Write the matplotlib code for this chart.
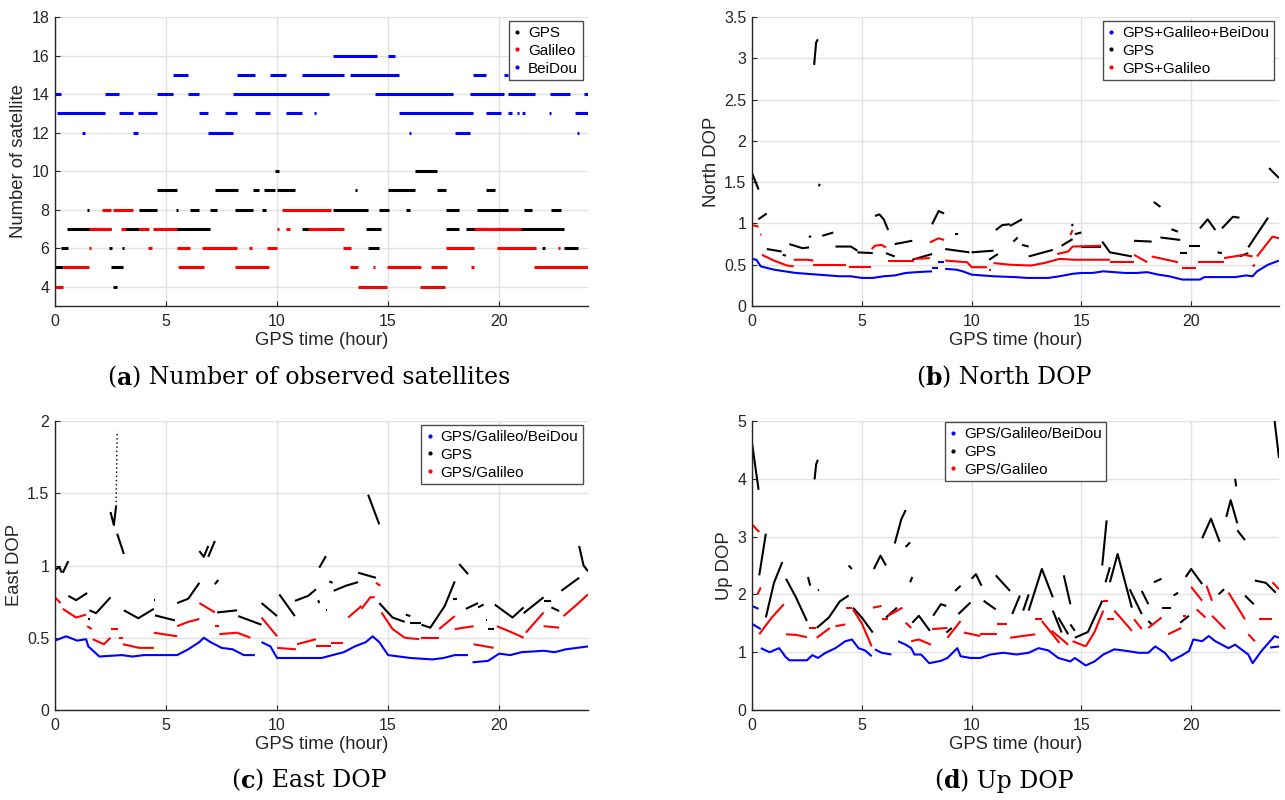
import matplotlib
matplotlib.use("Agg")
import matplotlib.pyplot as plt
from matplotlib.lines import Line2D

plt.rcParams['font.family'] = ['Liberation Sans', 'DejaVu Sans']

# ---------------- (a) number of observed satellites: (start_hour, end_hour, count)
gps_sat = [(0.0, 0.35, 5), (0.25, 0.6, 6), (0.55, 2.5, 7), (1.45, 1.55, 8), (2.45, 2.55, 6),
           (2.5, 3.05, 5), (2.6, 2.8, 4), (3.0, 3.1, 6), (3.0, 3.8, 7), (3.8, 4.6, 8),
           (4.6, 5.5, 9), (5.4, 7.0, 7), (5.45, 5.55, 8), (6.1, 6.5, 8), (7.0, 7.3, 8),
           (7.2, 8.25, 9), (8.1, 8.9, 8), (8.9, 9.2, 9), (9.4, 9.9, 9), (10.0, 10.8, 9),
           (9.3, 9.5, 8), (9.9, 10.1, 10), (11.1, 12.45, 7), (12.5, 14.1, 8), (13.5, 13.6, 9),
           (14.0, 14.7, 7), (14.1, 14.6, 6), (14.6, 15.05, 8), (15.0, 16.2, 9), (15.8, 16.0, 8),
           (16.2, 17.2, 10), (17.2, 17.6, 9), (17.6, 18.2, 8), (17.6, 18.2, 7), (18.5, 22.9, 7),
           (19.0, 20.4, 8), (19.4, 19.8, 9), (21.1, 21.5, 8), (21.95, 22.05, 6), (22.35, 22.8, 8),
           (22.9, 23.55, 6)]
galileo_sat = [(0.0, 0.35, 4), (0.35, 1.55, 5), (1.52, 1.6, 6), (1.55, 2.5, 7), (2.1, 2.5, 8),
               (2.6, 3.5, 8), (2.95, 3.2, 7), (3.8, 4.25, 7), (4.2, 4.35, 6), (4.4, 5.5, 7),
               (5.5, 6.1, 6), (5.55, 6.7, 5), (6.6, 8.2, 6), (8.1, 9.65, 5), (8.75, 8.85, 6),
               (9.55, 10.0, 6), (10.0, 10.1, 7), (10.4, 10.6, 7), (10.2, 12.45, 8), (11.4, 13.0, 7),
               (12.95, 13.35, 6), (13.3, 13.65, 5), (13.65, 14.95, 4), (14.3, 14.4, 5),
               (14.95, 16.5, 5), (16.45, 17.55, 4), (16.95, 17.65, 5), (17.6, 18.85, 6),
               (18.75, 18.85, 5), (18.85, 21.0, 7), (19.9, 21.65, 6), (21.55, 24.0, 5),
               (22.65, 22.75, 6)]
beidou_sat = [(12.5, 14.5, 16), (15.0, 15.3, 16),
              (5.3, 6.0, 15), (8.2, 9.0, 15), (9.7, 10.4, 15), (11.1, 13.0, 15), (13.3, 15.5, 15),
              (18.8, 19.4, 15), (20.2, 20.4, 15),
              (0.0, 0.25, 14), (2.25, 2.9, 14), (4.6, 5.3, 14), (6.0, 6.5, 14), (8.0, 12.35, 14),
              (14.4, 17.9, 14), (18.7, 20.2, 14), (20.4, 21.6, 14), (22.3, 23.2, 14), (23.8, 24.0, 14),
              (0.1, 2.25, 13), (2.9, 3.5, 13), (3.75, 4.6, 13), (6.5, 6.9, 13), (7.65, 8.2, 13),
              (9.0, 9.7, 13), (10.4, 11.1, 13), (11.65, 11.75, 13), (15.5, 18.8, 13), (19.4, 20.1, 13),
              (20.4, 20.6, 13), (20.8, 20.9, 13), (21.05, 21.15, 13), (22.25, 22.35, 13), (23.4, 24.0, 13),
              (1.2, 1.35, 12), (3.5, 3.75, 12), (6.9, 8.0, 12), (15.95, 16.05, 12), (18.0, 18.7, 12),
              (23.5, 23.6, 12)]

# ---------------- (b) North DOP: segments of (hour, value)
north_all = [
    [(0, 0.57), (0.2, 0.56), (0.4, 0.48), (1, 0.44), (2, 0.40), (3, 0.38), (3.5, 0.37), (4, 0.36),
     (4.5, 0.36), (5, 0.34), (5.5, 0.34), (6, 0.36), (6.5, 0.37), (7, 0.40), (7.5, 0.41), (8.2, 0.42)],
    [(8.2, 0.46), (8.45, 0.46)], [(8.45, 0.53), (8.75, 0.53)],
    [(8.8, 0.45), (9.3, 0.44), (9.6, 0.42), (10, 0.38), (10.5, 0.37), (11, 0.36), (12, 0.35),
     (12.5, 0.34), (13.5, 0.34), (14, 0.36), (14.6, 0.39), (15, 0.40), (15.5, 0.40), (16, 0.42),
     (16.5, 0.41), (17, 0.40), (17.5, 0.40), (18, 0.41), (18.5, 0.38), (19, 0.36), (19.6, 0.32),
     (20.4, 0.32), (20.6, 0.35), (21, 0.35), (22, 0.35), (22.5, 0.37), (22.8, 0.36), (23, 0.42),
     (23.5, 0.50), (24, 0.55)]]
north_gps = [
    [(0, 1.61), (0.3, 1.41)], [(0.29, 1.05), (0.67, 1.12)], [(0.67, 0.69), (1.35, 0.66)],
    [(1.4, 0.62), (1.55, 0.61)], [(1.7, 0.75), (2.3, 0.70), (2.6, 0.71)], [(2.6, 0.83), (2.68, 0.85)],
    [(2.83, 2.92), (2.92, 3.19), (3.0, 3.23)], [(3.05, 1.45), (3.08, 1.48)],
    [(3.2, 0.85), (3.7, 0.89)], [(3.8, 0.72), (4.5, 0.72), (4.8, 0.67)], [(4.8, 0.65), (5.5, 0.64)],
    [(5.6, 1.09), (5.8, 1.11), (6.0, 1.05), (6.2, 0.92)], [(6.1, 0.64), (6.5, 0.60)],
    [(6.5, 0.75), (7.3, 0.79)], [(7.3, 0.56), (8.2, 0.63)],
    [(8.2, 0.99), (8.5, 1.15), (8.75, 1.12)], [(8.8, 0.69), (9.9, 0.65)], [(9.25, 0.87), (9.4, 0.87)],
    [(10.0, 0.65), (11.0, 0.67)], [(10.8, 0.56), (11.2, 0.63)],
    [(11.1, 0.92), (11.4, 0.98), (11.75, 0.99)], [(11.75, 0.97), (12.3, 1.05)],
    [(11.9, 0.78), (12.1, 0.83)], [(12.3, 0.74), (12.6, 0.72)], [(12.6, 0.60), (13.7, 0.68)],
    [(14.1, 0.73), (14.6, 0.81)], [(14.55, 0.97), (14.62, 0.99)], [(14.7, 0.87), (15.0, 0.89)],
    [(15.0, 0.72), (15.9, 0.72)], [(15.95, 0.78), (16.3, 0.65), (17.3, 0.60)],
    [(17.4, 0.79), (18.2, 0.78)], [(18.3, 1.26), (18.6, 1.20)], [(18.6, 0.83), (19.5, 0.80)],
    [(19.1, 0.93), (19.4, 0.90)], [(19.5, 0.64), (19.8, 0.64)], [(19.9, 0.73), (20.4, 0.73)],
    [(20.4, 0.94), (20.75, 1.05), (21.1, 0.92)], [(21.2, 0.65), (21.4, 0.64)],
    [(21.4, 0.94), (21.9, 1.08), (22.2, 1.07)], [(22.2, 0.60), (22.6, 0.64)],
    [(22.6, 0.71), (23.5, 1.07)], [(23.55, 1.67), (24.0, 1.55)]]
north_gal = [
    [(0, 0.98), (0.3, 0.96)], [(0.38, 0.87), (0.42, 0.86)],
    [(0.45, 0.62), (1, 0.55), (1.6, 0.49), (1.9, 0.48)], [(1.9, 0.56), (2.5, 0.56), (2.8, 0.55)],
    [(2.8, 0.50), (3.5, 0.50), (4.3, 0.50)], [(4.4, 0.47), (5.4, 0.47)],
    [(5.45, 0.69), (5.6, 0.73), (5.9, 0.74), (6.1, 0.71)], [(6.2, 0.55), (7.4, 0.55)],
    [(7.4, 0.57), (8.1, 0.58)], [(8.1, 0.77), (8.5, 0.82), (8.75, 0.80)],
    [(8.8, 0.55), (9.8, 0.53), (10.0, 0.47), (10.7, 0.47)], [(10.8, 0.44), (10.9, 0.44)],
    [(11.0, 0.52), (11.75, 0.50), (12.7, 0.49), (13.3, 0.52), (14.0, 0.57), (14.7, 0.56), (16.3, 0.56)],
    [(13.9, 0.63), (14.4, 0.66), (14.6, 0.72), (15.9, 0.73)], [(14.5, 0.86), (14.6, 0.92)],
    [(16.3, 0.53), (17.4, 0.53)], [(17.4, 0.62), (18.0, 0.53)], [(18.2, 0.60), (19.4, 0.53)],
    [(19.6, 0.46), (20.2, 0.46)], [(20.3, 0.53), (21.5, 0.53)],
    [(21.5, 0.58), (22.4, 0.62), (22.8, 0.60)], [(22.8, 0.48), (22.9, 0.50)],
    [(23.0, 0.60), (23.7, 0.84), (24, 0.82)]]

# ---------------- (c) East DOP
east_all = [
    [(0, 0.48), (0.5, 0.51), (1, 0.48), (1.4, 0.49), (1.5, 0.44), (2, 0.37), (3, 0.38), (3.5, 0.37),
     (4, 0.38), (5, 0.38), (5.5, 0.38), (6, 0.42), (6.5, 0.47), (6.7, 0.50), (7, 0.47), (7.5, 0.43),
     (8, 0.42), (8.5, 0.38), (9, 0.38)],
    [(9.3, 0.47), (9.7, 0.44), (10, 0.36), (11, 0.36), (12, 0.36), (13, 0.40), (13.5, 0.44), (14, 0.47),
     (14.3, 0.51), (14.6, 0.47), (15, 0.38), (15.5, 0.37), (16, 0.36), (17, 0.35), (17.5, 0.36),
     (18, 0.38), (18.6, 0.38)],
    [(18.8, 0.33), (19.5, 0.34), (20, 0.39), (20.5, 0.38), (21, 0.40), (22, 0.41), (22.5, 0.40),
     (23, 0.42), (24, 0.44)]]
east_gps = [
    [(0, 0.97), (0.2, 0.99), (0.3, 0.95)], [(0.35, 0.95), (0.6, 1.03)],
    [(0.6, 0.79), (0.95, 0.76), (1.45, 0.81)], [(1.5, 0.63), (1.57, 0.63)],
    [(1.55, 0.69), (1.85, 0.67), (2.5, 0.78)], [(2.5, 1.37), (2.65, 1.28), (2.75, 1.41)],
    [(2.8, 1.22), (3.1, 1.08)], [(3.1, 0.69), (3.75, 0.635), (4.45, 0.70)], [(4.45, 0.76), (4.52, 0.76)],
    [(4.5, 0.655), (5.4, 0.62)], [(5.5, 0.74), (6.0, 0.77), (6.5, 0.88)],
    [(6.5, 1.10), (6.7, 1.06), (6.9, 1.135)], [(6.9, 1.06), (7.2, 1.17)], [(7.2, 0.87), (7.35, 0.90)],
    [(7.3, 0.675), (8.2, 0.69)], [(8.25, 0.65), (9.3, 0.59)], [(9.3, 0.74), (10.0, 0.65)],
    [(10.1, 0.80), (10.8, 0.65)], [(10.8, 0.755), (11.4, 0.79), (11.75, 0.835)],
    [(11.85, 0.76), (11.9, 0.74)], [(11.9, 0.985), (12.2, 1.065)], [(12.2, 0.69), (12.27, 0.69)],
    [(12.35, 0.89), (12.5, 0.88)], [(12.55, 0.825), (13.1, 0.86), (13.65, 0.885)],
    [(13.65, 0.95), (14.45, 0.915)], [(14.1, 1.49), (14.6, 1.285)],
    [(14.6, 0.74), (15.2, 0.64), (15.75, 0.61)], [(15.8, 0.66), (16.0, 0.65)], [(16.0, 0.60), (16.5, 0.60)],
    [(16.5, 0.59), (16.9, 0.57), (17.55, 0.72), (18.0, 0.89)], [(17.9, 0.765), (18.1, 0.765)],
    [(18.2, 1.01), (18.6, 0.94)], [(18.5, 0.70), (19.05, 0.74)], [(19.05, 0.71), (19.3, 0.73)],
    [(19.4, 0.62), (19.47, 0.62)], [(19.5, 0.56), (19.75, 0.56)],
    [(19.8, 0.73), (20.6, 0.64), (21.1, 0.71)], [(21.1, 0.67), (22.0, 0.78)],
    [(22.0, 0.755), (22.35, 0.755)], [(22.35, 0.71), (22.7, 0.685)], [(22.8, 0.825), (23.6, 0.915)],
    [(23.6, 1.135), (23.8, 1.0), (24.0, 0.96)]]
east_gps_sparse = [(2.75, 1.41), (2.8, 1.93)]
east_gal = [
    [(0, 0.78), (0.25, 0.74)], [(0.35, 0.70), (0.95, 0.64), (1.4, 0.66)], [(1.45, 0.58), (1.65, 0.56)],
    [(1.7, 0.49), (2.2, 0.455), (2.5, 0.50)], [(2.5, 0.56), (2.85, 0.56)], [(2.9, 0.50), (3.05, 0.50)],
    [(3.05, 0.455), (3.8, 0.43), (4.45, 0.43)], [(4.45, 0.535), (5.5, 0.51)],
    [(5.5, 0.58), (6.0, 0.61), (6.5, 0.63)], [(6.5, 0.74), (7.2, 0.675)], [(7.2, 0.58), (7.4, 0.58)],
    [(7.4, 0.525), (8.2, 0.535)], [(8.2, 0.535), (8.8, 0.50)], [(9.3, 0.64), (10.0, 0.51)],
    [(10.0, 0.43), (10.85, 0.42)], [(10.9, 0.455), (11.75, 0.49)], [(11.75, 0.44), (12.45, 0.44)],
    [(12.45, 0.465), (12.95, 0.465)], [(13.2, 0.64), (13.8, 0.72)], [(13.8, 0.70), (14.2, 0.78), (14.4, 0.78)],
    [(14.45, 0.88), (14.65, 0.86)], [(14.7, 0.675), (15.2, 0.56), (15.75, 0.50)],
    [(15.75, 0.50), (16.4, 0.49)], [(16.5, 0.50), (17.3, 0.50)], [(17.3, 0.56), (18.0, 0.65)],
    [(18.0, 0.56), (18.85, 0.58)], [(18.85, 0.455), (19.75, 0.43)],
    [(19.9, 0.58), (20.6, 0.535), (21.1, 0.50)], [(21.2, 0.535), (22.0, 0.675)],
    [(22.0, 0.58), (22.7, 0.57)], [(22.9, 0.65), (23.5, 0.73), (24.0, 0.80)]]

# ---------------- (d) Up DOP
up_all = [
    [(0, 1.80), (0.3, 1.75)], [(0, 1.49), (0.4, 1.40)],
    [(0.4, 1.07), (0.8, 1.0), (1.23, 1.07), (1.4, 0.99), (1.5, 0.93), (1.7, 0.86), (2.5, 0.86),
     (2.75, 0.95), (3.0, 0.90), (3.35, 0.99), (3.8, 1.07), (4.25, 1.19), (4.55, 1.22), (4.85, 1.07),
     (5.15, 1.03), (5.45, 0.93)],
    [(5.6, 1.05), (5.9, 0.99), (6.35, 0.96)],
    [(6.65, 1.19), (7.0, 1.13), (7.25, 1.07), (7.4, 0.96), (7.7, 0.96), (8.07, 0.81), (8.6, 0.85),
     (8.9, 0.90), (9.35, 1.07), (9.5, 0.93), (9.95, 0.90), (10.4, 0.90), (10.85, 0.96), (11.45, 0.99),
     (12.05, 0.96), (12.6, 0.99), (13.05, 1.07), (13.5, 1.03), (13.95, 0.90), (14.5, 0.84), (14.7, 0.90),
     (15.2, 0.77), (15.6, 0.84), (16.0, 0.96), (16.5, 1.05), (17.1, 1.02), (17.6, 0.99), (18.05, 0.99),
     (18.36, 1.10), (18.8, 0.99), (19.1, 0.85), (19.6, 0.95), (19.9, 1.02), (20.1, 1.22), (20.5, 1.19),
     (20.8, 1.28), (21.1, 1.19), (21.7, 1.07), (22.0, 1.13), (22.6, 0.96), (22.8, 0.81), (23.2, 1.02),
     (23.8, 1.28), (24.0, 1.25)],
    [(23.6, 1.08), (24.0, 1.10)]]
up_gps = [
    [(0, 4.62), (0.3, 3.81)], [(0.33, 2.33), (0.63, 3.05)], [(0.63, 1.60), (1.0, 2.2), (1.38, 2.56)],
    [(1.55, 2.27), (2.0, 1.95), (2.5, 1.54)], [(2.55, 2.30), (2.65, 2.15)], [(3.0, 2.07), (3.05, 2.08)],
    [(2.85, 3.99), (2.92, 4.25), (3.0, 4.33)],
    [(2.95, 1.42), (3.5, 1.6), (4.0, 1.88), (4.4, 1.98)], [(4.4, 2.50), (4.55, 2.44)],
    [(4.6, 1.77), (5.0, 1.6), (5.5, 1.34)], [(5.55, 2.44), (5.85, 2.67), (6.1, 2.50)],
    [(6.1, 1.60), (6.6, 1.77)], [(6.5, 2.88), (6.8, 3.3), (7.0, 3.46)], [(7.0, 2.82), (7.2, 2.90)],
    [(7.2, 2.21), (7.3, 2.30)], [(7.3, 1.51), (7.6, 1.63), (8.1, 1.37)],
    [(8.25, 1.63), (8.6, 1.83), (8.85, 1.80)], [(8.85, 1.34), (9.1, 1.42)], [(9.25, 2.06), (9.5, 2.15)],
    [(9.4, 1.66), (9.95, 1.86)], [(10.0, 2.27), (10.2, 2.35), (10.45, 2.15)],
    [(10.55, 1.89), (11.1, 1.74)], [(11.1, 2.33), (11.75, 2.06)], [(11.85, 1.66), (12.2, 1.98)],
    [(12.35, 1.72), (12.6, 2.0)], [(12.6, 1.72), (13.2, 2.44), (13.7, 1.95)],
    [(13.7, 1.72), (14.1, 1.34)], [(13.95, 1.60), (14.4, 1.31)], [(14.2, 2.33), (14.5, 1.83)],
    [(14.5, 1.48), (14.7, 1.37)], [(14.7, 1.25), (15.3, 1.35), (15.95, 1.89)],
    [(15.95, 2.50), (16.15, 3.28)], [(16.1, 2.21), (16.3, 2.47)],
    [(16.3, 2.21), (16.65, 2.70), (17.3, 1.77)], [(17.2, 2.09), (17.75, 1.66)],
    [(17.75, 2.06), (18.05, 1.83)], [(18.05, 1.54), (18.2, 1.48)], [(18.3, 2.21), (18.65, 2.27)],
    [(18.65, 1.77), (19.1, 1.77)], [(19.2, 1.98), (19.4, 2.03)], [(19.5, 1.51), (19.9, 1.63)],
    [(19.75, 2.30), (20.0, 2.44), (20.5, 2.18)], [(20.5, 2.97), (20.9, 3.31), (21.3, 2.91)],
    [(21.25, 2.0), (21.5, 2.09)], [(21.6, 3.34), (21.8, 3.63), (22.1, 3.23)], [(22.0, 4.0), (22.05, 3.87)],
    [(22.1, 3.11), (22.45, 2.94)], [(22.45, 1.98), (22.85, 1.83)],
    [(22.9, 2.24), (23.4, 2.2), (23.85, 2.03)], [(23.8, 5.0), (24.0, 4.36)]]
up_gal = [
    [(0, 3.21), (0.33, 3.08)], [(0.25, 2.0), (0.4, 2.12)], [(0.33, 1.31), (0.9, 1.6), (1.45, 1.83)],
    [(1.55, 1.31), (2.0, 1.30), (2.5, 1.26)], [(2.6, 1.42), (2.9, 1.42)], [(2.95, 1.25), (3.55, 1.42)],
    [(3.8, 1.45), (4.25, 1.48)], [(4.3, 1.77), (4.55, 1.77)], [(4.6, 1.74), (5.0, 1.5), (5.45, 1.10)],
    [(5.5, 1.77), (5.9, 1.80)], [(5.9, 1.57), (6.2, 1.57)], [(6.2, 1.63), (6.85, 1.77)],
    [(7.0, 1.51), (7.25, 1.42)], [(7.25, 1.19), (7.6, 1.22), (8.15, 1.13)], [(8.2, 1.40), (8.9, 1.42)],
    [(8.9, 1.25), (9.5, 1.54)], [(9.65, 1.34), (10.4, 1.28)], [(10.4, 1.31), (11.15, 1.31)],
    [(11.15, 1.48), (11.6, 1.48)], [(11.75, 1.25), (12.9, 1.31)], [(12.9, 1.57), (13.2, 1.57)],
    [(13.2, 1.54), (14.0, 1.16)], [(13.65, 1.37), (14.4, 1.13)], [(14.6, 1.19), (15.2, 1.10)],
    [(15.2, 1.10), (15.6, 1.35), (16.0, 1.72)], [(16.0, 1.89), (16.2, 1.89)], [(16.15, 1.57), (16.5, 1.57)],
    [(16.5, 1.72), (17.3, 1.37)], [(17.4, 1.57), (17.75, 1.40)], [(18.05, 1.42), (18.65, 1.60)],
    [(18.95, 1.31), (19.55, 1.42)], [(19.65, 1.63), (19.75, 1.63)], [(20.0, 2.13), (20.5, 1.89)],
    [(20.25, 1.74), (20.65, 1.60)], [(20.7, 2.15), (20.95, 1.89)], [(20.95, 1.63), (21.55, 1.40)],
    [(21.7, 2.03), (22.45, 1.57)], [(22.6, 1.31), (22.9, 1.19)], [(23.1, 1.57), (23.7, 1.57)],
    [(23.7, 2.21), (24.0, 2.09)]]

BLUE, BLACK, RED = '#0000ff', '#000000', '#ff0000'

fig = plt.figure(figsize=(12.85, 8.0), dpi=100)
W, H = 1285.0, 800.0


def make_ax(x0, x1, ytop, ybot):
    return fig.add_axes([x0 / W, 1 - ybot / H, (x1 - x0) / W, (ybot - ytop) / H])


def style(ax, ylim, yticks, ylabel):
    ax.set_xlim(0, 24)
    ax.set_ylim(*ylim)
    ax.set_xticks([0, 5, 10, 15, 20])
    ax.set_yticks(yticks)
    ax.set_yticklabels([('%g' % v) for v in yticks])
    ax.grid(True, color='#e2e2e2', lw=1.0)
    ax.set_axisbelow(True)
    for s in ('top', 'right'):
        ax.spines[s].set_visible(False)
    for s in ('left', 'bottom'):
        ax.spines[s].set_color('#262626')
        ax.spines[s].set_linewidth(1.0)
    ax.tick_params(direction='in', length=3.5, labelsize=11.5, colors='#262626')
    ax.tick_params(axis='x', pad=6)
    ax.tick_params(axis='y', pad=4)
    ax.set_xlabel('GPS time (hour)', fontsize=13.3, color='#262626', labelpad=2)
    ax.set_ylabel(ylabel, fontsize=13.3, color='#262626', labelpad=3)


def draw(ax, segs, color, lw=1.5):
    for s in segs:
        ax.plot([p[0] for p in s], [p[1] for p in s], color=color, lw=lw,
                solid_capstyle='butt', solid_joinstyle='round')


def legend(ax, colors, labels, **kw):
    hs = [Line2D([], [], ls='', marker='.', markersize=4, color=c) for c in colors]
    lg = ax.legend(hs, labels, fancybox=False, framealpha=1, edgecolor='#4d4d4d',
                   fontsize=11, handlelength=0.5, handletextpad=0.45, borderpad=0.3,
                   labelspacing=0.25, borderaxespad=0.0, **kw)
    lg.get_frame().set_linewidth(1.0)
    return lg


CAP_FONT = dict(fontsize=17, family='DejaVu Serif', va='center')


def caption(xc, y, letter, rest):
    r = fig.canvas.get_renderer()
    t1 = fig.text(0, 1 - y / H, '(', **CAP_FONT)
    t2 = fig.text(0, 1 - y / H, letter, weight='bold', **CAP_FONT)
    t3 = fig.text(0, 1 - y / H, ') ' + rest, **CAP_FONT)
    w1 = t1.get_window_extent(r).width
    w2 = t2.get_window_extent(r).width
    w3 = t3.get_window_extent(r).width
    x0 = xc - (w1 + w2 + w3) / 2.0
    t1.set_x(x0 / W)
    t2.set_x((x0 + w1) / W)
    t3.set_x((x0 + w1 + w2) / W)


# (a)
axa = make_ax(55, 588, 17, 306)
for segs, col in ((gps_sat, BLACK), (galileo_sat, RED), (beidou_sat, BLUE)):
    axa.hlines([s[2] for s in segs], [s[0] for s in segs], [s[1] for s in segs],
               colors=col, lw=2.2)
style(axa, (3, 18), [4, 6, 8, 10, 12, 14, 16, 18], 'Number of satellite')
legend(axa, [BLACK, RED, BLUE], ['GPS', 'Galileo', 'BeiDou'], loc='upper right',
       bbox_to_anchor=(0.99, 0.985))

# (b)
axb = make_ax(752, 1279, 17, 306)
draw(axb, north_all, BLUE)
draw(axb, north_gps, BLACK)
draw(axb, north_gal, RED)
style(axb, (0, 3.5), [0, 0.5, 1, 1.5, 2, 2.5, 3, 3.5], 'North DOP')
legend(axb, [BLUE, BLACK, RED], ['GPS+Galileo+BeiDou', 'GPS', 'GPS+Galileo'],
       loc='upper right', bbox_to_anchor=(0.99, 0.985))

# (c)
axc = make_ax(55, 588, 421, 710)
draw(axc, east_all, BLUE)
draw(axc, east_gps, BLACK)
axc.plot([p[0] for p in east_gps_sparse], [p[1] for p in east_gps_sparse], color=BLACK,
         lw=1.0, ls=(0, (1, 2)))
draw(axc, east_gal, RED)
style(axc, (0, 2), [0, 0.5, 1, 1.5, 2], 'East DOP')
legend(axc, [BLUE, BLACK, RED], ['GPS/Galileo/BeiDou', 'GPS', 'GPS/Galileo'],
       loc='upper right', bbox_to_anchor=(0.99, 0.985))

# (d)
axd = make_ax(752, 1279, 421, 710)
draw(axd, up_all, BLUE)
draw(axd, up_gps, BLACK)
draw(axd, up_gal, RED)
style(axd, (0, 5), [0, 1, 2, 3, 4, 5], 'Up DOP')
legend(axd, [BLUE, BLACK, RED], ['GPS/Galileo/BeiDou', 'GPS', 'GPS/Galileo'],
       loc='upper left', bbox_to_anchor=(0.366, 0.995))

fig.canvas.draw()
caption(309, 378, 'a', 'Number of observed satellites')
caption(1004, 378, 'b', 'North DOP')
caption(309, 781, 'c', 'East DOP')
caption(1004, 781, 'd', 'Up DOP')

fig.savefig('out.png', dpi=100)
